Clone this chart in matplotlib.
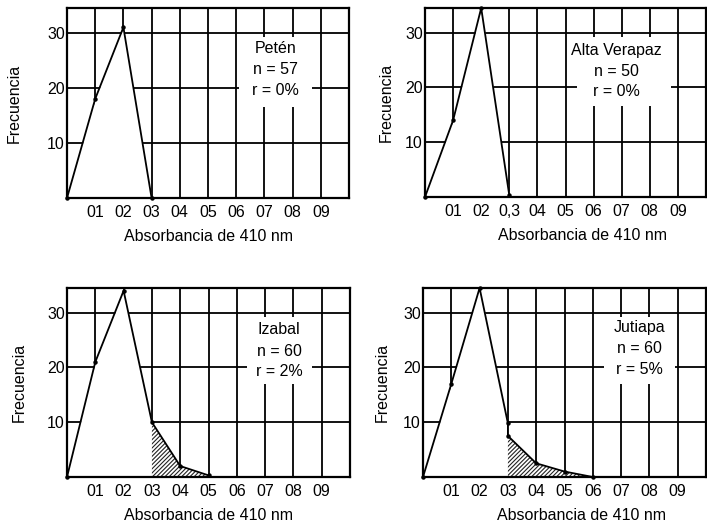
import matplotlib
matplotlib.use("Agg")
import matplotlib.pyplot as plt
from matplotlib.patches import Rectangle

plt.rcParams['font.family'] = ['Liberation Sans', 'DejaVu Sans']
plt.rcParams['hatch.linewidth'] = 0.8

# ---- data ----
x_ticks = [0.1, 0.2, 0.3, 0.4, 0.5, 0.6, 0.7, 0.8, 0.9]
x_ticklabels = ["01", "02", "03", "04", "05", "06", "07", "08", "09"]
x_ticklabels_alta = ["01", "02", "0,3", "04", "05", "06", "07", "08", "09"]
y_ticks = [10, 20, 30]

peten_x = [0.0, 0.1, 0.2, 0.3]
peten_y = [0, 18, 31, 0]

alta_x = [0.0, 0.1, 0.2, 0.3]
alta_y = [0, 14, 34.5, 0.3]

izabal_x = [0.0, 0.1, 0.2, 0.3, 0.4, 0.5]
izabal_y = [0, 21, 34, 10, 2, 0.3]

jutiapa_x = [0.0, 0.1, 0.2, 0.3, 0.3, 0.4, 0.5, 0.6]
jutiapa_y = [0, 17, 34.5, 9.8, 7.5, 2.5, 1, 0]

panels = [
    dict(name="Petén", n=57, r="0%", x=peten_x, y=peten_y, hatch_from=None,
         rect=[0.61, 0.87, 16.5, 29.2], txt=(0.74, 23.3), labels=x_ticklabels,
         pos=[67, 8, 282, 190], ylab=-0.16, xlab=0.5),
    dict(name="Alta Verapaz", n=50, r="0%", x=alta_x, y=alta_y, hatch_from=None,
         rect=[0.54, 0.875, 16.7, 29.2], txt=(0.68, 23.0), labels=x_ticklabels_alta,
         pos=[425, 8, 281, 189], ylab=-0.11, xlab=0.56),
    dict(name="Izabal", n=60, r="2%", x=izabal_x, y=izabal_y, hatch_from=3,
         rect=[0.635, 0.865, 16.9, 29.2], txt=(0.75, 23.0), labels=x_ticklabels,
         pos=[67, 288, 283, 189], ylab=-0.141, xlab=0.5),
    dict(name="Jutiapa", n=60, r="5%", x=jutiapa_x, y=jutiapa_y, hatch_from=4,
         rect=[0.64, 0.89, 16.9, 29.2], txt=(0.765, 23.4), labels=x_ticklabels,
         pos=[423, 288, 283, 189], ylab=-0.117, xlab=0.56),
]

W, H = 707, 527
fig = plt.figure(figsize=(W / 100, H / 100), dpi=100)

for p in panels:
    l, t, w, h = p["pos"]
    ax = fig.add_axes([l / W, 1 - (t + h) / H, w / W, h / H])
    ax.set_xlim(0, 1.0)
    ax.set_ylim(0, 34.5)
    ax.set_xticks(x_ticks)
    ax.set_xticklabels(p["labels"])
    ax.set_yticks(y_ticks)
    ax.tick_params(length=0, labelsize=11.5, pad=5)
    ax.tick_params(axis='y', pad=1.5)
    for s in ax.spines.values():
        s.set_linewidth(1.6)
    ax.grid(True, color='black', linewidth=1.3, zorder=0.5)
    ax.set_axisbelow(True)

    # white area under curve
    ax.fill_between(p["x"], p["y"], 0, color='white', zorder=1.2, linewidth=0)
    if p["hatch_from"] is not None:
        k = p["hatch_from"]
        ax.fill_between(p["x"][k:], p["y"][k:], 0, facecolor='white',
                        edgecolor='#222222', hatch='////////', linewidth=0, zorder=1.4)
    ax.plot(p["x"], p["y"], color='black', linewidth=1.3, marker='o',
            markersize=2.2, zorder=3, clip_on=False)

    x0, x1, y0, y1 = p["rect"]
    ax.add_patch(Rectangle((x0, y0), x1 - x0, y1 - y0, facecolor='white',
                           edgecolor='none', zorder=1.6))
    tx, ty = p["txt"]
    ax.text(tx, ty, f"{p['name']}\nn = {p['n']}\nr = {p['r']}", ha='center',
            va='center', fontsize=11.5, linespacing=1.5, zorder=4)

    ax.set_ylabel("Frecuencia", fontsize=11.5)
    ax.yaxis.set_label_coords(p["ylab"], 0.5)
    ax.set_xlabel("Absorbancia de 410 nm", fontsize=11.5)
    ax.xaxis.set_label_coords(p["xlab"], -0.165)

fig.savefig("out.png", dpi=100)
